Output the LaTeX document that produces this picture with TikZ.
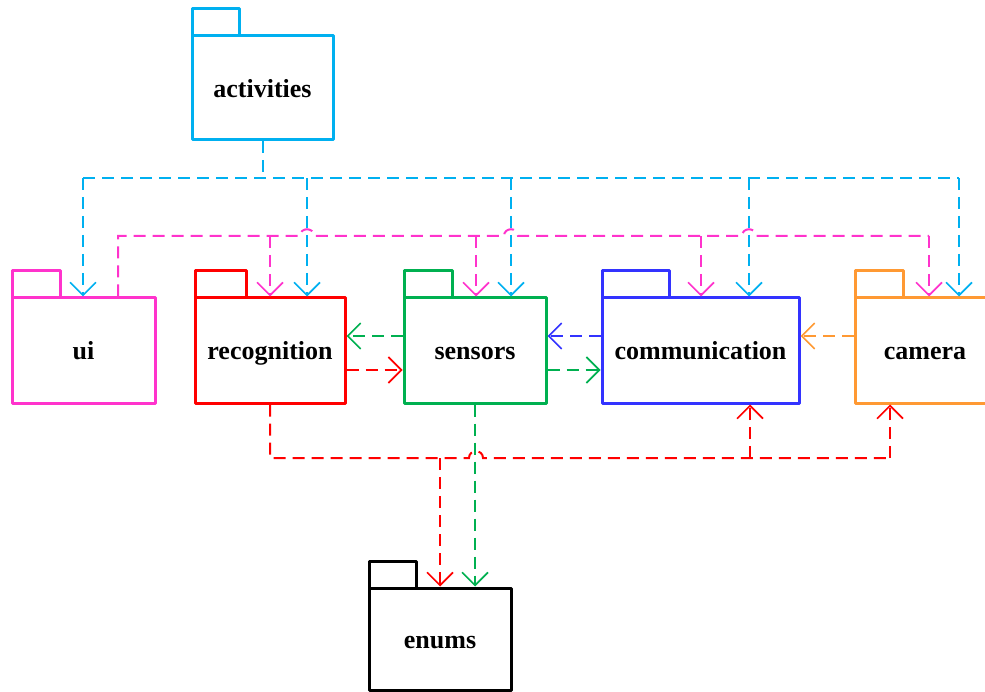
\documentclass[tikz,border=0pt]{standalone}
\usepackage{fontspec}
\setmainfont{Liberation Serif}
\usetikzlibrary{arrows.meta}
\definecolor{cAct}{RGB}{0,176,240}
\definecolor{cUi}{RGB}{255,51,204}
\definecolor{cRec}{RGB}{255,0,0}
\definecolor{cSen}{RGB}{0,176,80}
\definecolor{cCom}{RGB}{51,51,255}
\definecolor{cCam}{RGB}{255,153,51}
\tikzset{
  pkg/.style={draw, rectangle, line width=3pt, fill=white, inner sep=0pt,
    text height=19pt, text depth=0pt, line join=round,
    minimum height=105pt, font=\bfseries\fontsize{26}{30}\selectfont},
  tab/.style={line width=3pt, line join=round},
  dep/.style={line width=2pt, dash pattern=on 12pt off 7pt},
  deptip/.style={-{Straight Barb[length=13pt,width=26pt,line width=1.6pt]}},
}
\begin{document}
\begin{tikzpicture}[x=1pt,y=-1pt]
\useasboundingbox (0,0) rectangle (985,692);

% packages
\node[pkg, draw=cAct, minimum width=141pt, minimum height=104pt] (activities) at (262.5,88) {activities};
\node[pkg, draw=cUi,  minimum width=143pt] (ui) at (83.5,350.5) {ui};
\node[pkg, draw=cRec, minimum width=150pt] (recognition) at (270,350.5) {recognition};
\node[pkg, draw=cSen, minimum width=142pt] (sensors) at (475,350.5) {sensors};
\node[pkg, draw=cCom, minimum width=197pt] (communication) at (700.5,350.5) {communication};
\node[pkg, draw=cCam, minimum width=140pt] (camera) at (925,350.5) {camera};
\node[pkg, draw=black, minimum width=142pt, minimum height=102pt] (enums) at (440,639) {enums};

% package tabs
\draw[tab, cAct] ([shift={(1.5,1.5)}]activities.north west) rectangle ++(47,-27);
\draw[tab, cUi]  ([shift={(1.5,1.5)}]ui.north west) rectangle ++(48,-27);
\draw[tab, cRec] ([shift={(1.5,1.5)}]recognition.north west) rectangle ++(51,-27);
\draw[tab, cSen] ([shift={(1.5,1.5)}]sensors.north west) rectangle ++(48,-27);
\draw[tab, cCom] ([shift={(1.5,1.5)}]communication.north west) rectangle ++(67,-27);
\draw[tab, cCam] ([shift={(1.5,1.5)}]camera.north west) rectangle ++(48,-27);
\draw[tab, black] ([shift={(1.5,1.5)}]enums.north west) rectangle ++(47,-27);

% bus coordinates
\coordinate (abus) at (0,178);
\coordinate (a1) at (83,178);
\coordinate (a2) at (307,178);
\coordinate (a3) at (511,178);
\coordinate (a4) at (749,178);
\coordinate (a5) at (959,178);
\coordinate (u0) at (118,236);
\coordinate (p1) at (270,236);
\coordinate (p2) at (476,236);
\coordinate (p3) at (701,236);
\coordinate (p4) at (929,236);
\coordinate (rbus) at (0,458);
\coordinate (r1) at (440,458);
\coordinate (r2) at (750,458);
\coordinate (r3) at (890,458);
\coordinate (hU) at (0,336);
\coordinate (hD) at (0,370);

% activities dependencies
\draw[dep, cAct] (activities.south) -- (activities.south |- abus);
\draw[dep, cAct] (a1) -- (a5);
\draw[dep, deptip, cAct] (a1) -- (a1 |- ui.north);
\draw[dep, deptip, cAct] (a2) -- (a2 |- recognition.north);
\draw[dep, deptip, cAct] (a3) -- (a3 |- sensors.north);
\draw[dep, deptip, cAct] (a4) -- (a4 |- communication.north);
\draw[dep, deptip, cAct] (a5) -- (a5 |- camera.north);

% ui dependencies, hopping over the vertical lines
\draw[dep, cUi] (u0 |- ui.north) -- (u0) -- (300,236)
  .. controls (300,227) and (314,227) .. (314,236) -- (504,236)
  .. controls (504,227) and (518,227) .. (518,236) -- (742,236)
  .. controls (742,227) and (756,227) .. (756,236) -- (p4);
\draw[dep, deptip, cUi] (p1) -- (p1 |- recognition.north);
\draw[dep, deptip, cUi] (p2) -- (p2 |- sensors.north);
\draw[dep, deptip, cUi] (p3) -- (p3 |- communication.north);
\draw[dep, deptip, cUi] (p4) -- (p4 |- camera.north);

% recognition dependencies
\draw[dep, cRec] (recognition.south) -- (recognition.south |- rbus) -- (469,458)
  .. controls (469,449) and (483,449) .. (483,458) -- (r3);
\draw[dep, deptip, cRec] (r1) -- (r1 |- enums.north);
\draw[dep, deptip, cRec] (r2) -- (r2 |- communication.south);
\draw[dep, deptip, cRec] (r3) -- (r3 |- camera.south);

% sensors to enums
\draw[dep, deptip, cSen] (sensors.south) -- (sensors.south |- enums.north);

% horizontal dependencies between neighbours
\draw[dep, deptip, cSen] (sensors.west |- hU) -- (recognition.east |- hU);
\draw[dep, deptip, cRec] (recognition.east |- hD) -- (sensors.west |- hD);
\draw[dep, deptip, cCom] (communication.west |- hU) -- (sensors.east |- hU);
\draw[dep, deptip, cSen] (sensors.east |- hD) -- (communication.west |- hD);
\draw[dep, deptip, cCam] (camera.west |- hU) -- (communication.east |- hU);
\end{tikzpicture}
\end{document}
